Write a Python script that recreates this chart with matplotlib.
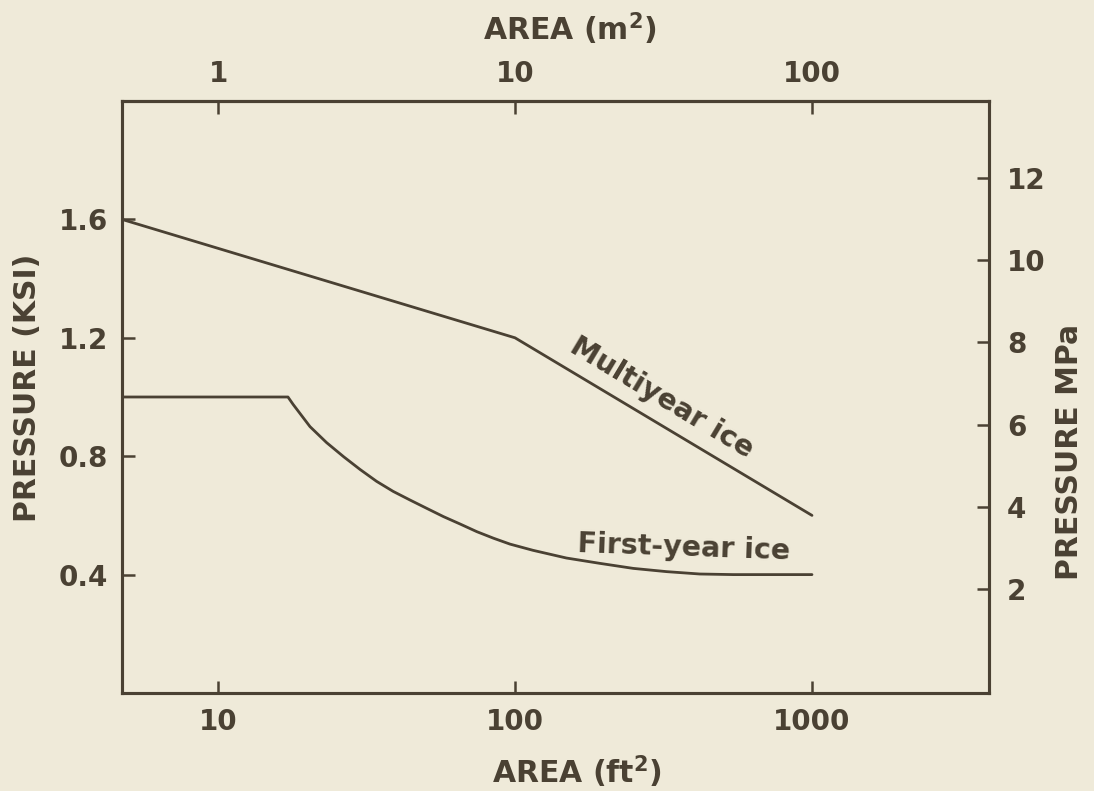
import matplotlib
matplotlib.use("Agg")
import matplotlib.pyplot as plt
from matplotlib.ticker import FixedLocator, FuncFormatter, NullLocator

# ---- data ----
multiyear_area_ft2 = [4.75, 100, 1000]
multiyear_ksi = [1.6, 1.2, 0.6]

firstyear_area_ft2 = [4.75, 17.2, 17.9, 20.4, 23.2, 26.5, 30.1, 34.2, 38.9, 44.3, 50.4,
                      57.4, 65.3, 74.4, 84.6, 96.2, 115, 149, 193, 250, 324, 419,
                      543, 703, 1000]
firstyear_ksi = [1.0, 1.0, 0.975, 0.90, 0.846, 0.798, 0.755, 0.715, 0.681, 0.652, 0.624,
                 0.596, 0.571, 0.545, 0.523, 0.503, 0.482, 0.456, 0.438, 0.421, 0.410,
                 0.402, 0.400, 0.400, 0.400]

ft2_ticks = [10, 100, 1000]
m2_ticks = [1, 10, 100]
ksi_ticks = [0.4, 0.8, 1.2, 1.6]
mpa_ticks = [2, 4, 6, 8, 10, 12]

INK = "#4a4133"
BG = "#efead9"
FS = 20
FS_TITLE = 21.5

plt.rcParams["font.family"] = ["DejaVu Sans"]
plt.rcParams["font.weight"] = "bold"

fig = plt.figure(figsize=(10.94, 7.91), dpi=100, facecolor=BG)
ax = fig.add_axes([122 / 1094, 1 - 693 / 791, (989 - 122) / 1094, (693 - 101) / 791])
ax.set_facecolor(BG)

ax.plot(multiyear_area_ft2, multiyear_ksi, color=INK, lw=2.0, solid_capstyle="round",
        solid_joinstyle="round")
ax.plot(firstyear_area_ft2, firstyear_ksi, color=INK, lw=2.0, solid_capstyle="round",
        solid_joinstyle="round")

ax.set_xscale("log")
ax.set_xlim(4.75, 3945)
ax.set_ylim(0, 2.0)

for s in ax.spines.values():
    s.set_color(INK)
    s.set_linewidth(2.2)

ax.xaxis.set_major_locator(FixedLocator(ft2_ticks))
ax.xaxis.set_minor_locator(NullLocator())
ax.xaxis.set_major_formatter(FuncFormatter(lambda v, p: f"{v:g}"))
ax.yaxis.set_major_locator(FixedLocator(ksi_ticks))
ax.yaxis.set_major_formatter(FuncFormatter(lambda v, p: f"{v:.1f}"))
ax.tick_params(axis="x", direction="in", length=9, width=1.8, color=INK,
               labelsize=FS, labelcolor=INK, pad=11)
ax.tick_params(axis="y", direction="in", length=9, width=1.8, color=INK,
               labelsize=FS, labelcolor=INK, pad=10)

# top axis in m^2
secx = ax.secondary_xaxis("top", functions=(lambda x: x / 10.0, lambda x: x * 10.0))
secx.xaxis.set_major_locator(FixedLocator(m2_ticks))
secx.xaxis.set_minor_locator(NullLocator())
secx.xaxis.set_major_formatter(FuncFormatter(lambda v, p: f"{v:g}"))
secx.tick_params(axis="x", direction="in", length=9, width=1.8, color=INK,
                 labelsize=FS, labelcolor=INK, pad=9)
secx.spines["top"].set_color(INK)
secx.spines["top"].set_linewidth(2.2)

# right axis in MPa
axr = ax.twinx()
axr.set_ylim(-0.53, 13.87)
axr.yaxis.set_major_locator(FixedLocator(mpa_ticks))
axr.yaxis.set_major_formatter(FuncFormatter(lambda v, p: f"{v:g}"))
axr.tick_params(axis="y", direction="in", length=9, width=1.8, color=INK,
                labelsize=FS, labelcolor=INK, pad=13)
for s in axr.spines.values():
    s.set_color(INK)
    s.set_linewidth(2.2)

# axis titles
fig.text(570 / 1094, 1 - 29 / 791, "AREA (m$^{\\mathbf{2}}$)", ha="center", va="center",
         fontsize=FS_TITLE, color=INK, fontweight="bold")
fig.text(577 / 1094, 1 - 772 / 791, "AREA (ft$^{\\mathbf{2}}$)", ha="center", va="center",
         fontsize=FS_TITLE, color=INK, fontweight="bold")
fig.text(28 / 1094, 1 - 388 / 791, "PRESSURE (KSI)", ha="center", va="center",
         rotation=90, fontsize=FS_TITLE, color=INK, fontweight="bold")
fig.text(1070 / 1094, 1 - 452 / 791, "PRESSURE MPa", ha="center", va="center",
         rotation=90, fontsize=FS_TITLE, color=INK, fontweight="bold")

# curve labels
ax.text(313, 0.997, "Multiyear ice", rotation=-31, rotation_mode="anchor",
        ha="center", va="center", fontsize=20.5, color=INK, fontweight="bold")
ax.text(370, 0.49, "First-year ice", rotation=-2, rotation_mode="anchor",
        ha="center", va="center", fontsize=20.5, color=INK, fontweight="bold")

fig.savefig("out.png", dpi=100, facecolor=BG)
